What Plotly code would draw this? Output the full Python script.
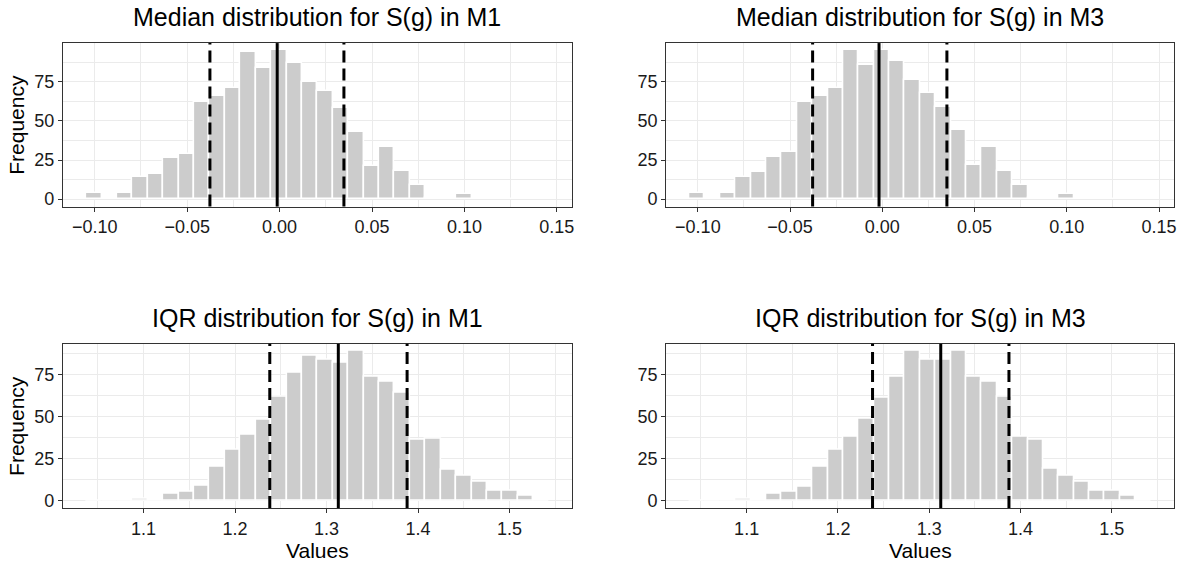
import plotly.graph_objects as go

# ---- data -----------------------------------------------------------------
# Histogram counts (30 bins each) for bootstrap medians and IQRs of S(g)
median_m1_counts = [4, 0, 4, 14, 16, 26, 29, 62, 66, 71, 94, 84, 95, 87, 75,
                    69, 58, 43, 21, 33, 18, 9, 1, 1, 3, 0, 1, 0, 0, 0]
median_m3_counts = [4, 0, 4, 14, 17, 27, 30, 62, 66, 71, 95, 86, 95, 88, 76,
                    68, 59, 44, 22, 33, 18, 9, 1, 1, 3, 0, 1, 0, 0, 0]
iqr_m1_counts = [0, 0, 0, 1, 0, 4, 5, 9, 20, 30, 39, 48, 62, 76, 86,
                 84, 82, 89, 74, 71, 64, 36, 37, 18, 15, 11, 6, 6, 3, 0]
iqr_m3_counts = [0, 0, 0, 1, 0, 4, 5, 8, 20, 30, 38, 49, 61, 74, 89,
                 84, 84, 89, 74, 71, 62, 38, 36, 19, 15, 11, 6, 6, 3, 0]

# Bin layout: left edge of the first bin and bin width
median_bin_start = -0.1046
median_bin_width = 0.00834
iqr_bin_start = 1.0373
iqr_bin_width = 0.01685

# Reference lines: (2.5% quantile, median, 97.5% quantile)
median_m1_lines = [-0.0377, -0.0013, 0.0348]
median_m3_lines = [-0.0378, -0.0018, 0.0350]
iqr_m1_lines = [1.2379, 1.3128, 1.3880]
iqr_m3_lines = [1.2379, 1.3126, 1.3873]

titles = ["Median distribution for S(g) in M1",
          "Median distribution for S(g) in M3",
          "IQR distribution for S(g) in M1",
          "IQR distribution for S(g) in M3"]
x_title = "Values"
y_title = "Frequency"

median_tickvals = [-0.10, -0.05, 0.00, 0.05, 0.10, 0.15]
median_ticktext = ["\u22120.10", "\u22120.05", "0.00", "0.05", "0.10", "0.15"]
median_minor = [-0.125, -0.075, -0.025, 0.025, 0.075, 0.125]
iqr_tickvals = [1.1, 1.2, 1.3, 1.4, 1.5]
iqr_ticktext = ["1.1", "1.2", "1.3", "1.4", "1.5"]
iqr_minor = [1.05, 1.15, 1.25, 1.35, 1.45, 1.55]
y_tickvals = [0, 25, 50, 75]
y_minor = [12.5, 37.5, 62.5, 87.5]

# ---- layout geometry (pixels) --------------------------------------------
W, H = 1183, 567
col_px = [(63.3, 573.3), (668.0, 1177.0)]
row_px = [(43.3, 207.7), (345.7, 510.7)]

FONT = "Liberation Sans, Arial, sans-serif"
BAR_FILL = "#CCCCCC"
BORDER = "#333333"
GRID = "#EBEBEB"
TICK_SIZE = 18
AXIS_TITLE_SIZE = 21
TITLE_SIZE = 25

panels = [
    (median_m1_counts, median_bin_start, median_bin_width, median_m1_lines,
     median_tickvals, median_ticktext, median_minor),
    (median_m3_counts, median_bin_start, median_bin_width, median_m3_lines,
     median_tickvals, median_ticktext, median_minor),
    (iqr_m1_counts, iqr_bin_start, iqr_bin_width, iqr_m1_lines,
     iqr_tickvals, iqr_ticktext, iqr_minor),
    (iqr_m3_counts, iqr_bin_start, iqr_bin_width, iqr_m3_lines,
     iqr_tickvals, iqr_ticktext, iqr_minor),
]

fig = go.Figure()
annotations = []
shapes = []

for i, (counts, start, width, lines, tv, tt, minor_vals) in enumerate(panels):
    r, c = divmod(i, 2)
    n = i + 1
    xa = "xaxis" if n == 1 else f"xaxis{n}"
    ya = "yaxis" if n == 1 else f"yaxis{n}"
    xref = "x" if n == 1 else f"x{n}"
    yref = "y" if n == 1 else f"y{n}"

    centers = [start + width * (k + 0.5) for k in range(len(counts))]
    fig.add_trace(go.Bar(
        x=centers, y=counts, width=width,
        marker=dict(color=BAR_FILL, line=dict(color="white", width=1.6)),
        xaxis=xref, yaxis=yref, showlegend=False, hoverinfo="x+y",
    ))

    # ggplot-style 5% expansion around the bars
    lo_edge = start
    hi_edge = start + width * len(counts)
    span = hi_edge - lo_edge
    x_range = [lo_edge - 0.05 * span, hi_edge + 0.05 * span]
    ymax = max(counts)
    y_range = [-0.05 * ymax, 1.05 * ymax]

    x0p, x1p = col_px[c]
    y0p, y1p = row_px[r]
    x_dom = [x0p / W, x1p / W]
    y_dom = [1 - y1p / H, 1 - y0p / H]

    common = dict(
        showgrid=True, gridcolor=GRID, gridwidth=1.1,
        showline=True, linecolor=BORDER, linewidth=1.3, mirror=True,
        ticks="outside", ticklen=4, tickwidth=1.2, tickcolor=BORDER,
        tickfont=dict(family=FONT, size=TICK_SIZE, color="#1A1A1A"),
        zeroline=False, fixedrange=True,
    )
    fig.layout[xa] = dict(
        domain=x_dom, anchor=yref, range=x_range,
        tickmode="array", tickvals=tv, ticktext=tt,
        minor=dict(tickmode="array", tickvals=minor_vals, showgrid=True,
                   gridcolor=GRID, gridwidth=0.6, ticks=""),
        **common,
    )
    fig.layout[ya] = dict(
        domain=y_dom, anchor=xref, range=y_range,
        tickmode="array", tickvals=y_tickvals,
        minor=dict(tickmode="array", tickvals=y_minor, showgrid=True,
                   gridcolor=GRID, gridwidth=0.6, ticks=""),
        **common,
    )

    # dashed quantile lines and solid median line
    for j, v in enumerate(lines):
        shapes.append(dict(
            type="line", xref=xref, yref=f"{yref} domain",
            x0=v, x1=v, y0=0, y1=1,
            line=dict(color="black", width=3,
                      dash="solid" if j == 1 else "12px,6px"),
            layer="above",
        ))

    # panel title
    annotations.append(dict(
        text=titles[i], xref="paper", yref="paper",
        x=(x_dom[0] + x_dom[1]) / 2, y=1 - (y0p - 26) / H,
        xanchor="center", yanchor="middle", showarrow=False,
        font=dict(family=FONT, size=TITLE_SIZE, color="#000000"),
    ))
    # axis titles
    if r == 1:
        annotations.append(dict(
            text=x_title, xref="paper", yref="paper",
            x=(x_dom[0] + x_dom[1]) / 2, y=1 - 553 / H,
            xanchor="center", yanchor="middle", showarrow=False,
            font=dict(family=FONT, size=AXIS_TITLE_SIZE, color="#000000"),
        ))
    if c == 0:
        annotations.append(dict(
            text=y_title, xref="paper", yref="paper", textangle=-90,
            x=17 / W, y=(y_dom[0] + y_dom[1]) / 2,
            xanchor="center", yanchor="middle", showarrow=False,
            font=dict(family=FONT, size=AXIS_TITLE_SIZE, color="#000000"),
        ))

fig.update_layout(
    width=W, height=H, margin=dict(l=0, r=0, t=0, b=0),
    paper_bgcolor="white", plot_bgcolor="white",
    bargap=0, annotations=annotations, shapes=shapes,
)

fig.write_html("out.html")
